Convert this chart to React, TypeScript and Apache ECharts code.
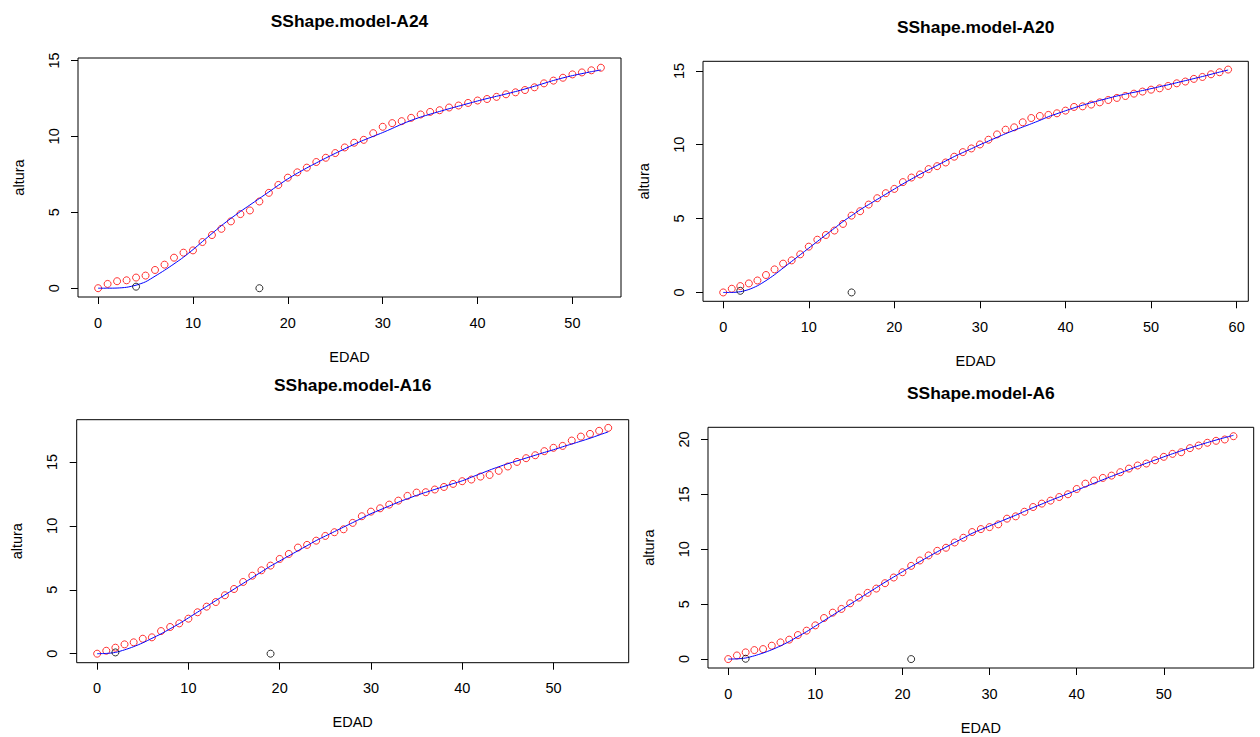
import React, { useEffect, useRef } from "react";
import * as echarts from "echarts";

// ---- Data (altura by EDAD, ages 0..n-1) ----
const A24_ALTURA = [0, 0.28, 0.46, 0.52, 0.70, 0.83, 1.20, 1.55, 2.01, 2.34, 2.49, 3.04, 3.50, 3.91, 4.40, 4.88, 5.12, 5.71, 6.28, 6.80, 7.28, 7.63, 7.94, 8.31, 8.59, 8.90, 9.27, 9.58, 9.77, 10.21, 10.63, 10.87, 11.00, 11.22, 11.44, 11.61, 11.72, 11.90, 12.03, 12.20, 12.36, 12.46, 12.60, 12.77, 12.90, 13.05, 13.23, 13.49, 13.67, 13.86, 14.08, 14.21, 14.35, 14.52];
const A24_FIT = [0, 0, 0.01, 0.06, 0.2, 0.42, 0.79, 1.18, 1.6, 2.04, 2.54, 3.07, 3.6, 4.12, 4.6, 5.05, 5.48, 5.91, 6.34, 6.78, 7.2, 7.57, 7.92, 8.25, 8.57, 8.88, 9.18, 9.48, 9.75, 10.0, 10.25, 10.52, 10.8, 11.05, 11.27, 11.46, 11.64, 11.82, 11.99, 12.16, 12.33, 12.49, 12.64, 12.79, 12.95, 13.12, 13.3, 13.49, 13.68, 13.85, 14.0, 14.13, 14.26, 14.37];
const A24_MARKS_X = [4, 17];
const A24_MARKS_Y = [0.1, 0];

const A20_ALTURA = [0, 0.25, 0.43, 0.61, 0.81, 1.18, 1.56, 1.95, 2.17, 2.58, 3.10, 3.57, 3.89, 4.19, 4.64, 5.20, 5.50, 5.95, 6.38, 6.72, 7.01, 7.47, 7.78, 7.99, 8.35, 8.55, 8.80, 9.19, 9.50, 9.75, 10.02, 10.34, 10.70, 11.02, 11.18, 11.52, 11.81, 11.95, 12.02, 12.13, 12.31, 12.56, 12.60, 12.72, 12.87, 13.03, 13.17, 13.30, 13.46, 13.60, 13.73, 13.82, 13.98, 14.16, 14.28, 14.46, 14.59, 14.77, 14.91, 15.09];
const A20_FIT = [0, 0, 0.05, 0.2, 0.45, 0.8, 1.2, 1.65, 2.1, 2.55, 3.0, 3.45, 3.9, 4.35, 4.8, 5.2, 5.6, 5.95, 6.3, 6.65, 7.0, 7.35, 7.68, 8.0, 8.3, 8.6, 8.9, 9.2, 9.47, 9.73, 10.0, 10.25, 10.5, 10.75, 10.98, 11.2, 11.42, 11.65, 11.9, 12.1, 12.3, 12.5, 12.68, 12.85, 13.0, 13.15, 13.3, 13.43, 13.55, 13.67, 13.8, 13.93, 14.06, 14.2, 14.34, 14.48, 14.62, 14.77, 14.92, 15.06];
const A20_MARKS_X = [2, 15];
const A20_MARKS_Y = [0.11, 0];

const A16_ALTURA = [0, 0.23, 0.47, 0.73, 0.89, 1.17, 1.28, 1.77, 2.09, 2.37, 2.74, 3.24, 3.68, 4.04, 4.57, 5.06, 5.61, 6.10, 6.52, 6.89, 7.41, 7.80, 8.30, 8.51, 8.84, 9.21, 9.50, 9.73, 10.23, 10.75, 11.11, 11.37, 11.66, 11.97, 12.34, 12.60, 12.63, 12.84, 13.04, 13.28, 13.49, 13.62, 13.85, 13.98, 14.30, 14.64, 15.0, 15.29, 15.52, 15.84, 16.10, 16.25, 16.67, 16.98, 17.19, 17.43, 17.66];
const A16_FIT = [0, 0.02, 0.1, 0.3, 0.55, 0.85, 1.2, 1.55, 1.95, 2.35, 2.8, 3.25, 3.7, 4.15, 4.6, 5.05, 5.5, 5.95, 6.4, 6.85, 7.25, 7.65, 8.05, 8.45, 8.85, 9.2, 9.55, 9.9, 10.25, 10.6, 10.95, 11.25, 11.55, 11.85, 12.12, 12.38, 12.62, 12.85, 13.08, 13.3, 13.52, 13.8, 14.08, 14.36, 14.62, 14.86, 15.08, 15.3, 15.52, 15.74, 15.95, 16.18, 16.4, 16.62, 16.85, 17.1, 17.35];
const A16_MARKS_X = [2, 19];
const A16_MARKS_Y = [0.1, 0];

const A6_ALTURA = [0, 0.33, 0.61, 0.82, 0.91, 1.22, 1.52, 1.77, 2.19, 2.59, 3.07, 3.74, 4.23, 4.57, 5.08, 5.60, 6.03, 6.42, 6.91, 7.43, 7.91, 8.49, 8.98, 9.44, 9.86, 10.14, 10.62, 11.05, 11.57, 11.84, 12.02, 12.27, 12.79, 13.0, 13.42, 13.85, 14.16, 14.43, 14.76, 15.01, 15.49, 15.98, 16.26, 16.50, 16.71, 17.02, 17.35, 17.63, 17.81, 18.11, 18.42, 18.69, 18.84, 19.21, 19.45, 19.70, 19.88, 20.0, 20.30];
const A6_FIT = [0, 0.02, 0.1, 0.3, 0.55, 0.85, 1.2, 1.6, 2.05, 2.5, 3.0, 3.5, 4.0, 4.5, 5.0, 5.5, 6.0, 6.5, 7.0, 7.48, 7.95, 8.42, 8.88, 9.33, 9.77, 10.2, 10.62, 11.03, 11.45, 11.8, 12.12, 12.45, 12.78, 13.1, 13.45, 13.8, 14.12, 14.45, 14.76, 15.06, 15.38, 15.7, 16.02, 16.33, 16.64, 16.95, 17.25, 17.55, 17.84, 18.13, 18.42, 18.7, 18.97, 19.23, 19.48, 19.72, 19.95, 20.17, 20.38];
const A6_MARKS_X = [2, 21];
const A6_MARKS_Y = [0.03, 0];

const TITLES = ["SShape.model-A24", "SShape.model-A20", "SShape.model-A16", "SShape.model-A6"];
const X_TICKS_A24 = [0, 10, 20, 30, 40, 50];
const X_TICKS_A20 = [0, 10, 20, 30, 40, 50, 60];
const X_TICKS_A16 = [0, 10, 20, 30, 40, 50];
const X_TICKS_A6 = [0, 10, 20, 30, 40, 50];
const Y_TICKS_A24 = [0, 5, 10, 15];
const Y_TICKS_A20 = [0, 5, 10, 15];
const Y_TICKS_A16 = [0, 5, 10, 15];
const Y_TICKS_A6 = [0, 5, 10, 15, 20];

const FONT = "'Liberation Sans', Arial, sans-serif";

type Panel = {
  title: string;
  altura: number[];
  fit: number[];
  mx: number[];
  my: number[];
  xt: number[];
  yt: number[];
  grid: { left: number; top: number; width: number; height: number };
  xr: [number, number];
  yr: [number, number];
  titleY: number;
};

const PANELS: Panel[] = [
  { title: TITLES[0], altura: A24_ALTURA, fit: A24_FIT, mx: A24_MARKS_X, my: A24_MARKS_Y, xt: X_TICKS_A24, yt: Y_TICKS_A24,
    grid: { left: 78, top: 58, width: 543, height: 239 }, xr: [-2.12, 55.12], yr: [-0.58, 15.16], titleY: 21 },
  { title: TITLES[1], altura: A20_ALTURA, fit: A20_FIT, mx: A20_MARKS_X, my: A20_MARKS_Y, xt: X_TICKS_A20, yt: Y_TICKS_A20,
    grid: { left: 703, top: 61.3, width: 545.3, height: 240 }, xr: [-2.36, 61.36], yr: [-0.6, 15.65], titleY: 27 },
  { title: TITLES[2], altura: A16_ALTURA, fit: A16_FIT, mx: A16_MARKS_X, my: A16_MARKS_Y, xt: X_TICKS_A16, yt: Y_TICKS_A16,
    grid: { left: 76.7, top: 419.7, width: 552, height: 243 }, xr: [-2.24, 58.24], yr: [-0.704, 18.3], titleY: 385 },
  { title: TITLES[3], altura: A6_ALTURA, fit: A6_FIT, mx: A6_MARKS_X, my: A6_MARKS_Y, xt: X_TICKS_A6, yt: Y_TICKS_A6,
    grid: { left: 708, top: 427.3, width: 545.7, height: 240.7 }, xr: [-2.32, 60.32], yr: [-0.812, 21.11], titleY: 393 },
];

function buildOption() {
  const grid: any[] = [];
  const xAxis: any[] = [];
  const yAxis: any[] = [];
  const series: any[] = [];
  const title: any[] = [];
  PANELS.forEach((p, i) => {
    grid.push({ ...p.grid, show: true, borderColor: "#000", borderWidth: 1, backgroundColor: "transparent", containLabel: false });
    title.push({
      text: p.title,
      left: p.grid.left + p.grid.width / 2,
      top: p.titleY,
      textAlign: "center",
      textVerticalAlign: "middle",
      padding: 0,
      textStyle: { fontFamily: FONT, fontWeight: "bold", fontSize: 17.4, color: "#000" },
    });
    xAxis.push({
      type: "value",
      gridIndex: i,
      position: "bottom",
      min: p.xr[0],
      max: p.xr[1],
      name: "EDAD",
      nameLocation: "middle",
      nameGap: 52,
      nameTextStyle: { fontFamily: FONT, fontSize: 14.5, color: "#000" },
      axisLine: { show: false, onZero: false },
      splitLine: { show: false },
      axisTick: { show: true, length: 7, lineStyle: { color: "#000", width: 1 }, customValues: p.xt },
      axisLabel: { fontFamily: FONT, fontSize: 14.5, color: "#000", margin: 18, customValues: p.xt },
    });
    yAxis.push({
      type: "value",
      gridIndex: i,
      position: "left",
      min: p.yr[0],
      max: p.yr[1],
      name: "altura",
      nameLocation: "middle",
      nameGap: 52,
      nameTextStyle: { fontFamily: FONT, fontSize: 14.5, color: "#000" },
      axisLine: { show: false, onZero: false },
      splitLine: { show: false },
      axisTick: { show: true, length: 7, lineStyle: { color: "#000", width: 1 }, customValues: p.yt },
      axisLabel: { fontFamily: FONT, fontSize: 14.5, color: "#000", margin: 17, rotate: 90, customValues: p.yt },
    });
    series.push({
      type: "scatter",
      name: p.title + " altura",
      xAxisIndex: i,
      yAxisIndex: i,
      symbol: "circle",
      symbolSize: 7,
      itemStyle: { color: "transparent", borderColor: "#ff0000", borderWidth: 1 },
      data: p.altura.map((v, k) => [k, v]),
      z: 2,
    });
    series.push({
      type: "line",
      name: p.title + " fit",
      xAxisIndex: i,
      yAxisIndex: i,
      showSymbol: false,
      smooth: 0.25,
      lineStyle: { color: "#0000ff", width: 1 },
      data: p.fit.map((v, k) => [k, v]),
      z: 3,
    });
    series.push({
      type: "scatter",
      name: p.title + " marks",
      xAxisIndex: i,
      yAxisIndex: i,
      symbol: "circle",
      symbolSize: 7,
      itemStyle: { color: "transparent", borderColor: "#000", borderWidth: 1 },
      data: p.mx.map((x, k) => [x, p.my[k]]),
      z: 4,
    });
  });
  return { animation: false, backgroundColor: "#fff", title, grid, xAxis, yAxis, series };
}

export default function App() {
  const ref = useRef<HTMLDivElement>(null);
  useEffect(() => {
    if (!ref.current) return;
    const chart = echarts.init(ref.current, undefined, { renderer: "svg" });
    chart.setOption(buildOption() as any);
    return () => chart.dispose();
  }, []);
  return (
    <div
      ref={ref}
      style={{ position: "absolute", left: 0, top: 0, width: 1260, height: 737, background: "#fff" }}
    />
  );
}
